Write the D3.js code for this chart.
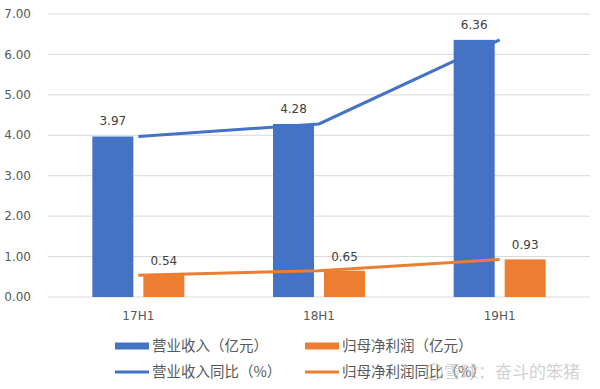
<!DOCTYPE html>
<html>
<head>
<meta charset="utf-8">
<script src="https://cdn.jsdelivr.net/npm/d3@7/dist/d3.min.js"></script>
<style>
  body { margin: 0; background: #fff; }
  svg { display: block; font-family: "Noto Sans CJK SC", "DejaVu Sans", sans-serif; }
  .num { font-family: "DejaVu Sans", sans-serif; }
</style>
</head>
<body>
<div id="chart"></div>
<script>
const categories = ["17H1", "18H1", "19H1"];
const revenue = [3.97, 4.28, 6.36];      // 营业收入（亿元）
const netProfit = [0.54, 0.65, 0.93];    // 归母净利润（亿元）
const yTicks = [0, 1, 2, 3, 4, 5, 6, 7];
const legendLabels = ["营业收入（亿元）", "归母净利润（亿元）", "营业收入同比（%）", "归母净利润同比（%）"];

const width = 600, height = 389;
const blue = "#4472C4", orange = "#ED7D31";

const svg = d3.select("#chart").append("svg")
  .attr("width", width)
  .attr("height", height);

const x = d3.scaleBand().domain(categories).range([48, 590]);
const y = d3.scaleLinear().domain([0, 7]).range([297, 14]);
const barW = 41, gap = 5;
const cx = d => x(d) + x.bandwidth() / 2;

// grid
svg.append("g").selectAll("line")
  .data(yTicks)
  .join("line")
  .attr("x1", 48).attr("x2", 590)
  .attr("y1", d => y(d)).attr("y2", d => y(d))
  .attr("stroke", "#d9d9d9")
  .attr("stroke-width", 1);

// y tick labels
svg.append("g").selectAll("text")
  .data(yTicks)
  .join("text")
  .attr("class", "num")
  .attr("x", 31)
  .attr("y", d => y(d))
  .attr("dy", "0.35em")
  .attr("text-anchor", "end")
  .attr("font-size", 12)
  .attr("fill", "#595959")
  .text(d => d.toFixed(2));

// category labels
svg.append("g").selectAll("text")
  .data(categories)
  .join("text")
  .attr("class", "num")
  .attr("x", d => cx(d))
  .attr("y", 320)
  .attr("text-anchor", "middle")
  .attr("font-size", 12)
  .attr("fill", "#595959")
  .text(d => d);

// bars
svg.append("g").selectAll("rect")
  .data(categories)
  .join("rect")
  .attr("x", d => cx(d) - gap - barW)
  .attr("y", (d, i) => y(revenue[i]))
  .attr("width", barW)
  .attr("height", (d, i) => y(0) - y(revenue[i]))
  .attr("fill", blue);

svg.append("g").selectAll("rect")
  .data(categories)
  .join("rect")
  .attr("x", d => cx(d) + gap)
  .attr("y", (d, i) => y(netProfit[i]))
  .attr("width", barW)
  .attr("height", (d, i) => y(0) - y(netProfit[i]))
  .attr("fill", orange);

// lines
const line = vals => d3.line()
  .x((d, i) => cx(categories[i]))
  .y(d => y(d))(vals);

svg.append("path")
  .attr("d", line(revenue))
  .attr("fill", "none")
  .attr("stroke", blue)
  .attr("stroke-width", 3);

svg.append("path")
  .attr("d", line(netProfit))
  .attr("fill", "none")
  .attr("stroke", orange)
  .attr("stroke-width", 3);

// data labels
svg.append("g").selectAll("text")
  .data(categories)
  .join("text")
  .attr("class", "num")
  .attr("x", d => cx(d) - gap - barW / 2)
  .attr("y", (d, i) => y(revenue[i]) - 11)
  .attr("text-anchor", "middle")
  .attr("font-size", 12)
  .attr("fill", "#404040")
  .text((d, i) => revenue[i].toFixed(2));

svg.append("g").selectAll("text")
  .data(categories)
  .join("text")
  .attr("class", "num")
  .attr("x", d => cx(d) + gap + barW / 2)
  .attr("y", (d, i) => y(netProfit[i]) - 10)
  .attr("text-anchor", "middle")
  .attr("font-size", 12)
  .attr("fill", "#404040")
  .text((d, i) => netProfit[i].toFixed(2));

// legend
const legendPos = [
  { x: 115, y: 346, color: blue, type: "rect" },
  { x: 305, y: 346, color: orange, type: "rect" },
  { x: 115, y: 372, color: blue, type: "line" },
  { x: 305, y: 372, color: orange, type: "line" }
];
const lg = svg.append("g").selectAll("g")
  .data(legendPos)
  .join("g")
  .attr("transform", d => `translate(${d.x},${d.y})`);

lg.filter(d => d.type === "rect").append("rect")
  .attr("x", 0).attr("y", -3.5)
  .attr("width", 34).attr("height", 7)
  .attr("fill", d => d.color);

lg.filter(d => d.type === "line").append("line")
  .attr("x1", 0).attr("x2", 34)
  .attr("y1", 0).attr("y2", 0)
  .attr("stroke", d => d.color)
  .attr("stroke-width", 3);

lg.append("text")
  .attr("x", 37)
  .attr("dy", "0.35em")
  .attr("font-size", 14.5)
  .attr("fill", "#595959")
  .text((d, i) => legendLabels[i]);

// watermark
const wm = svg.append("g").attr("opacity", 0.8);
wm.append("circle")
  .attr("cx", 434).attr("cy", 372).attr("r", 8)
  .attr("fill", "none")
  .attr("stroke", "#c8c8c8")
  .attr("stroke-width", 1.5);
wm.append("text")
  .attr("x", 444).attr("y", 372)
  .attr("dy", "0.35em")
  .attr("font-size", 17)
  .attr("fill", "#c8c8c8")
  .text("雪球：奋斗的笨猪");
</script>
</body>
</html>
